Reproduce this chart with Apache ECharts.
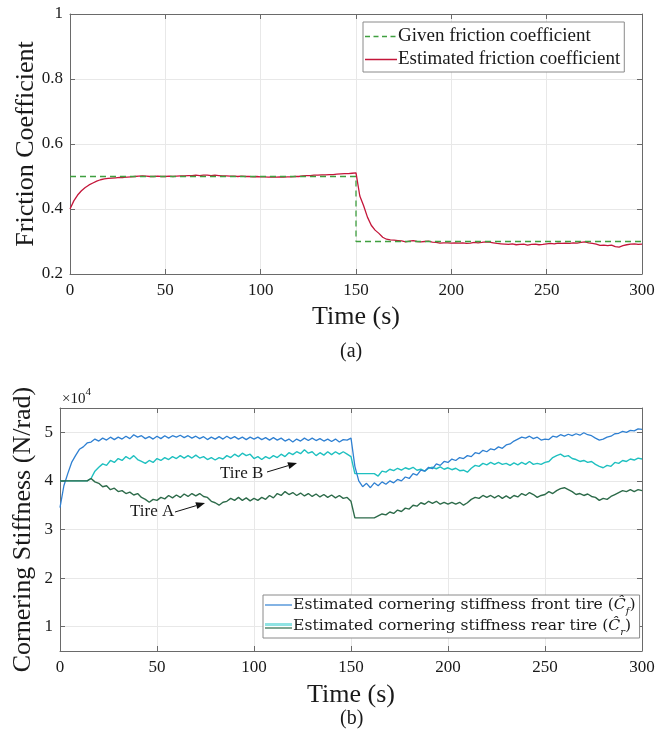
<!DOCTYPE html>
<html>
<head>
<meta charset="utf-8">
<script src="https://cdn.jsdelivr.net/npm/echarts@6/dist/echarts.min.js"></script>
<style>
html,body{margin:0;padding:0;background:#fff;}
#chart{width:672px;height:738px;}
</style>
</head>
<body>
<div id="chart"></div>
<script>
// ---------- data ----------
const TIME_STEP = 2; // seconds between samples (t = 0,2,...,300)

// (a) friction coefficient
const givenTime = [0, 150, 150, 300];
const givenMu = [0.5, 0.5, 0.3, 0.3];
const estMu = [
  0.400,0.425,0.443,0.456,0.466,0.474,0.480,0.486,0.490,0.493,
  0.494,0.495,0.496,0.497,0.497,0.498,0.499,0.500,0.501,0.502,
  0.501,0.500,0.500,0.501,0.500,0.500,0.501,0.500,0.501,0.502,
  0.502,0.503,0.503,0.504,0.503,0.504,0.504,0.503,0.504,0.503,
  0.502,0.502,0.501,0.501,0.500,0.501,0.500,0.500,0.499,0.500,
  0.499,0.499,0.498,0.499,0.498,0.499,0.498,0.499,0.499,0.500,
  0.500,0.502,0.503,0.503,0.504,0.504,0.505,0.505,0.506,0.506,
  0.507,0.508,0.509,0.509,0.510,0.511,0.440,0.410,0.375,0.350,
  0.335,0.325,0.313,0.307,0.305,0.304,0.303,0.302,0.299,0.301,
  0.303,0.300,0.299,0.300,0.301,0.298,0.297,0.295,0.296,0.296,
  0.295,0.296,0.295,0.296,0.294,0.295,0.297,0.296,0.297,0.299,
  0.298,0.296,0.294,0.293,0.292,0.291,0.293,0.290,0.291,0.292,
  0.289,0.291,0.292,0.290,0.291,0.293,0.294,0.293,0.295,0.294,
  0.295,0.294,0.296,0.295,0.297,0.299,0.296,0.294,0.292,0.288,
  0.289,0.287,0.289,0.284,0.283,0.287,0.290,0.292,0.293,0.291,
  0.292
];

// (b) cornering stiffness, in units of 1e4 N/rad
const stiffFront = [
  3.45,3.90,4.15,4.38,4.52,4.65,4.70,4.78,4.80,4.86,
  4.82,4.88,4.84,4.90,4.85,4.90,4.86,4.92,4.87,4.95,
  4.90,4.93,4.87,4.91,4.86,4.92,4.87,4.93,4.88,4.93,
  4.90,4.94,4.89,4.93,4.88,4.92,4.87,4.91,4.85,4.90,
  4.86,4.91,4.86,4.92,4.87,4.91,4.86,4.90,4.85,4.90,
  4.86,4.90,4.85,4.89,4.84,4.89,4.84,4.88,4.82,4.86,
  4.80,4.86,4.82,4.88,4.83,4.88,4.83,4.87,4.82,4.86,
  4.81,4.86,4.80,4.85,4.84,4.88,4.30,4.00,3.88,3.95,
  3.86,3.96,3.90,3.98,3.93,4.00,3.96,4.03,4.00,4.08,
  4.05,4.15,4.12,4.22,4.20,4.28,4.25,4.35,4.32,4.40,
  4.38,4.45,4.42,4.48,4.46,4.52,4.50,4.58,4.56,4.63,
  4.60,4.66,4.64,4.70,4.67,4.74,4.76,4.82,4.86,4.90,
  4.88,4.92,4.87,4.90,4.84,4.86,4.85,4.92,4.90,4.95,
  4.92,4.96,4.93,4.97,4.94,4.99,4.95,4.93,4.88,4.84,
  4.86,4.90,4.92,4.97,4.98,5.02,5.00,5.04,5.03,5.07,
  5.06
];
const stiffTireB = [
  4.00,4.00,4.00,4.00,4.00,4.00,4.00,4.00,4.05,4.20,
  4.28,4.35,4.32,4.42,4.38,4.46,4.42,4.50,4.45,4.52,
  4.44,4.40,4.36,4.42,4.38,4.46,4.42,4.48,4.44,4.50,
  4.46,4.52,4.47,4.52,4.47,4.53,4.47,4.50,4.44,4.48,
  4.43,4.48,4.45,4.52,4.48,4.55,4.50,4.57,4.52,4.55,
  4.46,4.50,4.44,4.50,4.46,4.52,4.48,4.55,4.50,4.58,
  4.54,4.60,4.56,4.64,4.57,4.60,4.52,4.58,4.53,4.60,
  4.54,4.60,4.55,4.60,4.55,4.50,4.15,4.15,4.15,4.15,
  4.15,4.15,4.10,4.20,4.18,4.24,4.21,4.26,4.22,4.27,
  4.24,4.28,4.22,4.24,4.20,4.26,4.28,4.25,4.29,4.24,
  4.27,4.23,4.26,4.21,4.22,4.18,4.26,4.32,4.30,4.36,
  4.33,4.38,4.34,4.38,4.34,4.36,4.32,4.37,4.33,4.38,
  4.34,4.40,4.34,4.36,4.34,4.38,4.40,4.48,4.52,4.55,
  4.50,4.52,4.46,4.44,4.40,4.42,4.38,4.40,4.34,4.30,
  4.27,4.32,4.30,4.38,4.36,4.42,4.40,4.45,4.43,4.47,
  4.45
];
const stiffTireA = [
  4.00,4.00,4.00,4.00,4.00,4.00,4.00,4.00,4.05,3.98,
  3.95,3.88,3.90,3.82,3.85,3.78,3.80,3.74,3.77,3.71,
  3.74,3.66,3.62,3.56,3.62,3.60,3.66,3.63,3.70,3.65,
  3.71,3.66,3.73,3.68,3.74,3.69,3.74,3.68,3.66,3.58,
  3.55,3.50,3.56,3.58,3.64,3.60,3.66,3.60,3.65,3.59,
  3.64,3.60,3.66,3.62,3.70,3.65,3.74,3.70,3.78,3.72,
  3.76,3.70,3.75,3.69,3.74,3.68,3.73,3.67,3.72,3.66,
  3.71,3.65,3.70,3.64,3.66,3.58,3.24,3.24,3.24,3.24,
  3.24,3.24,3.28,3.32,3.30,3.36,3.33,3.40,3.37,3.44,
  3.42,3.50,3.48,3.55,3.52,3.58,3.54,3.58,3.52,3.56,
  3.52,3.56,3.52,3.56,3.50,3.55,3.62,3.66,3.64,3.70,
  3.66,3.70,3.65,3.70,3.64,3.69,3.64,3.70,3.67,3.74,
  3.70,3.76,3.72,3.66,3.70,3.72,3.78,3.74,3.80,3.84,
  3.86,3.82,3.78,3.72,3.74,3.70,3.73,3.68,3.66,3.60,
  3.64,3.62,3.68,3.72,3.76,3.80,3.78,3.82,3.78,3.82,
  3.80
];
const muTicks = [0.2, 0.4, 0.6, 0.8, 1];
const stiffTicks = [1, 2, 3, 4, 5];

// ---------- names ----------
const GIVEN = 'Given friction coefficient';
const EST = 'Estimated friction coefficient';
const FRONT = 'Estimated cornering stiffness front tire (Cf)';
const REAR = 'Estimated cornering stiffness rear tire (Cr)';

// ---------- style ----------
const FONT = '"Liberation Serif", "Times New Roman", serif';
const LFONT = '"DejaVu Serif", "Liberation Serif", serif';
const AXIS_C = '#6a6a6a';
const TXT_C = '#1a1a1a';
const GRID_C = '#e8e8e8';
const C_GIVEN = '#3f9f3f';
const C_EST = '#c4163a';
const C_FRONT = '#2f80d2';
const C_B = '#1fc0c0';
const C_A = '#2d6b4a';

const withTime = arr => arr.map((v, i) => [i * TIME_STEP, v]);

function xAxisPair(gridIndex, nameGap) {
  const base = {
    type: 'value', gridIndex, min: 0, max: 300, interval: 50,
    axisLine: { show: true, onZero: false, lineStyle: { color: AXIS_C, width: 1 } },
    axisTick: { show: true, inside: true, length: 5, lineStyle: { color: AXIS_C } },
  };
  return [
    Object.assign({}, base, {
      position: 'bottom',
      axisLabel: { color: TXT_C, fontFamily: FONT, fontSize: 17, margin: 8 },
      splitLine: { show: true, lineStyle: { color: GRID_C, width: 1 } },
      name: 'Time (s)', nameLocation: 'middle', nameGap: nameGap,
      nameTextStyle: { color: TXT_C, fontFamily: FONT, fontSize: 26 }
    }),
    Object.assign({}, base, {
      position: 'top', axisLabel: { show: false }, splitLine: { show: false }
    })
  ];
}

function yAxisPair(gridIndex, min, max, ticks, name, nameGap, fmt) {
  const base = {
    type: 'value', gridIndex, min, max,
    axisLine: { show: true, onZero: false, lineStyle: { color: AXIS_C, width: 1 } },
    axisTick: { show: true, inside: true, length: 5, customValues: ticks, lineStyle: { color: AXIS_C } },
  };
  return [
    Object.assign({}, base, {
      position: 'left',
      axisLabel: { color: TXT_C, fontFamily: FONT, fontSize: 17, margin: 7, customValues: ticks, formatter: fmt },
      splitLine: { show: true, lineStyle: { color: GRID_C, width: 1 } },
      name: name, nameLocation: 'middle', nameGap: nameGap, nameMoveOverlap: false,
      nameTextStyle: { color: TXT_C, fontFamily: FONT, fontSize: 26 }
    }),
    Object.assign({}, base, {
      position: 'right', axisLabel: { show: false }, splitLine: { show: false }
    })
  ];
}

const xa = xAxisPair(0, 30).concat(xAxisPair(1, 31));
const ya = yAxisPair(0, 0.2, 1, muTicks, 'Friction Coefficient', 31, v => String(Math.round(v * 10) / 10))
  .concat(yAxisPair(1, 0.5, 5.5, stiffTicks, 'Cornering Stiffness (N/rad)', 24, v => String(v)));

function arrowGraphic(x1, y1, x2, y2) {
  const ang = Math.atan2(y2 - y1, x2 - x1);
  const L = 9, W = 3.5;
  const bx = x2 - L * Math.cos(ang), by = y2 - L * Math.sin(ang);
  const px = -Math.sin(ang) * W, py = Math.cos(ang) * W;
  return [
    { type: 'line', shape: { x1, y1, x2: bx, y2: by }, style: { stroke: '#111', lineWidth: 1 }, z: 100 },
    { type: 'polygon', shape: { points: [[x2, y2], [bx + px, by + py], [bx - px, by - py]] }, style: { fill: '#111' }, z: 100 }
  ];
}

function svgIcon(w, h, body) {
  const svg = '<svg xmlns="http://www.w3.org/2000/svg" width="' + w + '" height="' + h + '" viewBox="0 0 ' + w + ' ' + h + '">' + body + '</svg>';
  return 'image://data:image/svg+xml;charset=utf-8,' + encodeURIComponent(svg);
}
const iconGiven = svgIcon(32, 12, '<line x1="0" y1="6" x2="32" y2="6" stroke="' + C_GIVEN + '" stroke-width="1.4" stroke-dasharray="5,3.5"/>');
const iconEst = svgIcon(32, 12, '<line x1="0" y1="6" x2="32" y2="6" stroke="' + C_EST + '" stroke-width="1.4"/>');
const iconFront = svgIcon(27, 10, '<line x1="0" y1="5" x2="27" y2="5" stroke="' + C_FRONT + '" stroke-width="1.2"/>');
const iconRear = svgIcon(27, 10,
  '<rect x="0" y="2" width="27" height="3" fill="#8fe3e3"/>' +
  '<rect x="0" y="6.4" width="27" height="1.2" fill="' + C_A + '"/>');

const legendRich = {
  n: { fontFamily: LFONT, fontSize: 15.6, color: TXT_C, lineHeight: 22, verticalAlign: 'middle' },
  c: { fontFamily: LFONT, fontSize: 15.6, color: TXT_C, fontStyle: 'italic', lineHeight: 22, verticalAlign: 'middle' },
  s: { fontFamily: LFONT, fontSize: 10, color: TXT_C, fontStyle: 'italic', lineHeight: 22, verticalAlign: 'bottom' }
};

const option = {
  backgroundColor: '#fff',
  animation: false,
  grid: [
    { left: 70, right: 30, top: 14, height: 260, containLabel: false },
    { left: 60, right: 30, top: 408, height: 243, containLabel: false }
  ],
  xAxis: xa,
  yAxis: ya,
  legend: [
    {
      data: [{ name: GIVEN, icon: iconGiven }, { name: EST, icon: iconEst }],
      orient: 'vertical', left: 363, top: 22,
      itemWidth: 32, itemHeight: 12, itemGap: 4,
      padding: [5, 4, 3, 2],
      backgroundColor: '#fff', borderColor: '#8a8a8a', borderWidth: 1, borderRadius: 0,
      textStyle: { fontFamily: FONT, fontSize: 19, color: TXT_C, padding: [0, 0, 0, -4] },
      selectedMode: false, z: 50
    },
    {
      data: [{ name: FRONT, icon: iconFront }, { name: REAR, icon: iconRear }],
      orient: 'vertical', left: 263, top: 595,
      itemWidth: 27, itemHeight: 10, itemGap: 2,
      padding: [2, 4, 1, 2],
      backgroundColor: '#fff', borderColor: '#8a8a8a', borderWidth: 1, borderRadius: 0,
      formatter: function (name) {
        if (name === FRONT) return '{n|Estimated cornering stiffness front tire (}{c|\u0108}{s|f}{n|)}';
        return '{n|Estimated cornering stiffness rear tire (}{c|\u0108}{s|r}{n|)}';
      },
      textStyle: { fontFamily: LFONT, fontSize: 15.6, color: TXT_C, rich: legendRich, padding: [0, 0, 0, -4] },
      selectedMode: false, z: 50
    }
  ],
  series: [
    {
      name: GIVEN, type: 'line', xAxisIndex: 0, yAxisIndex: 0,
      data: givenTime.map((t, i) => [t, givenMu[i]]),
      symbol: 'none', lineStyle: { color: C_GIVEN, width: 1.3, type: [6, 4] }, itemStyle: { color: C_GIVEN }, z: 3
    },
    {
      name: EST, type: 'line', xAxisIndex: 0, yAxisIndex: 0,
      data: withTime(estMu),
      symbol: 'none', lineStyle: { color: C_EST, width: 1.3 }, itemStyle: { color: C_EST }, z: 2
    },
    {
      name: FRONT, type: 'line', xAxisIndex: 2, yAxisIndex: 2,
      data: withTime(stiffFront),
      symbol: 'none', lineStyle: { color: C_FRONT, width: 1.3 }, itemStyle: { color: C_FRONT }, z: 4
    },
    {
      name: REAR, type: 'line', xAxisIndex: 2, yAxisIndex: 2,
      data: withTime(stiffTireB),
      symbol: 'none', lineStyle: { color: C_B, width: 1.4 }, itemStyle: { color: C_B }, z: 3
    },
    {
      name: REAR, type: 'line', xAxisIndex: 2, yAxisIndex: 2,
      data: withTime(stiffTireA),
      symbol: 'none', lineStyle: { color: C_A, width: 1.4 }, itemStyle: { color: C_A }, z: 5
    }
  ],
  graphic: [
    { type: 'text', left: 340, top: 342, style: { text: '(a)', font: '20px ' + FONT, fill: TXT_C } },
    { type: 'text', left: 340, top: 709, style: { text: '(b)', font: '20px ' + FONT, fill: TXT_C } },
    { type: 'text', left: 62, top: 387, style: {
        text: '{a|\u00d710}{b|4}',
        rich: {
          a: { fontFamily: FONT, fontSize: 15, fill: TXT_C, color: TXT_C, verticalAlign: 'bottom', lineHeight: 20 },
          b: { fontFamily: FONT, fontSize: 11, fill: TXT_C, color: TXT_C, verticalAlign: 'top', lineHeight: 20 }
        } } },
    { type: 'text', left: 220, top: 465, z: 100, style: { text: 'Tire B', font: '17px ' + FONT, fill: TXT_C } },
    { type: 'text', left: 130, top: 503, z: 100, style: { text: 'Tire A', font: '17px ' + FONT, fill: TXT_C } }
  ].concat(arrowGraphic(267, 472, 297, 463)).concat(arrowGraphic(175, 512, 205, 503))
};

const chart = echarts.init(document.getElementById('chart'), null, { renderer: 'canvas' });
chart.setOption(option);
</script>
</body>
</html>
